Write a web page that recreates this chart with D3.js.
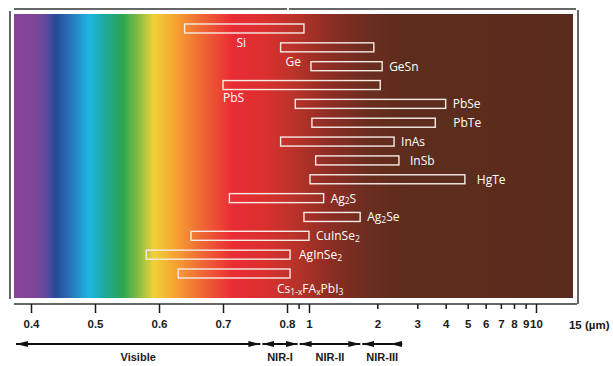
<!DOCTYPE html>
<html>
<head>
<meta charset="utf-8">
<script src="https://cdn.jsdelivr.net/npm/d3@7"></script>
<style>
  body { margin: 0; background: #fff; }
  svg { display: block; }
</style>
</head>
<body>
<svg id="chart" width="613" height="366"></svg>
<script>
// materials and their working wavelength range (µm)
var materials = ["Si", "Ge", "GeSn", "PbS", "PbSe", "PbTe", "InAs", "InSb", "HgTe",
                 "Ag_{2}S", "Ag_{2}Se", "CuInSe_{2}", "AgInSe_{2}", "Cs_{1-x}FA_{x}PbI_{3}"];
var rangeStart = [0.64, 0.79, 1.02, 0.70, 0.87, 1.03, 0.79, 1.07, 1.01, 0.71, 0.95, 0.65, 0.58, 0.63];
var rangeEnd   = [0.95, 1.93, 2.10, 2.06, 4.00, 3.60, 2.37, 2.49, 4.86, 1.16, 1.68, 1.00, 0.825, 0.825];

var majorTicks = [0.4, 0.5, 0.6, 0.7, 0.8, 1, 10];
var minorTicks = [0.9, 2, 3, 4, 5, 6, 7, 8, 9];
var unlabelledTicks = [0.9];

var bandNames = ["Visible", "NIR-I", "NIR-II", "NIR-III"];
var bandFrom  = [0.375, 0.76, 0.9, 1.7];
var bandTo    = [0.76, 0.9, 1.7, 2.6];

var svg = d3.select("#chart");
var plotL = 14, plotR = 573, plotT = 14, plotB = 298;

// linear in the visible, log beyond 0.8 µm
var xLin = d3.scaleLinear().domain([0.4, 0.8]).range([31, 287]);
var xLog = d3.scaleLog().domain([0.8, 10]).range([287, 536]);
function x(v) { return v <= 0.8 ? xLin(v) : xLog(v); }
x.domain = function() { return [0.4, 15]; };
x.range = function() { return [31, xLog(15)]; };
x.copy = function() { return x; };

var y = d3.scalePoint().domain(materials).range([28.5, 273.5]);

// spectrum background
var defs = svg.append("defs");
var grad = defs.append("linearGradient")
  .attr("id", "spec").attr("x1", "0%").attr("x2", "100%");
[[0, "#8a4398"], [4, "#7c4699"], [6, "#5a4a9e"], [7.5, "#224a98"], [10, "#2a72b8"],
 [13.5, "#1fb6e3"], [16, "#1aa9a4"], [19.5, "#2ea54e"], [22, "#7cbb45"], [25, "#f0d136"],
 [29, "#f6a132"], [33, "#ef6f33"], [39, "#ea2c35"], [45, "#d9302f"], [50, "#bb3329"],
 [56, "#902d24"], [63, "#6b2d1f"], [70, "#5d2c1c"], [100, "#5a2c1d"]].forEach(function(s) {
  grad.append("stop").attr("offset", s[0] + "%").attr("stop-color", s[1]);
});
svg.append("rect")
  .attr("x", plotL).attr("y", plotT)
  .attr("width", plotR - plotL).attr("height", plotB - plotT)
  .attr("fill", "url(#spec)");

// frame
var frame = svg.append("g").attr("stroke", "#333").attr("stroke-width", 1.5);
frame.append("line").attr("x1", 14).attr("x2", 287).attr("y1", 9).attr("y2", 9);
frame.append("line").attr("x1", 289).attr("x2", 576).attr("y1", 9).attr("y2", 9);
frame.append("line").attr("x1", 10).attr("x2", 10).attr("y1", 11).attr("y2", 299);
frame.append("line").attr("x1", 578).attr("x2", 578).attr("y1", 10).attr("y2", 304);
frame.append("line").attr("x1", 14).attr("x2", 577).attr("y1", 304).attr("y2", 304);

// bars
svg.append("g").selectAll("rect")
  .data(materials)
  .enter().append("rect")
    .attr("x", function(d, i) { return x(rangeStart[i]); })
    .attr("y", function(d) { return y(d) - 4.5; })
    .attr("width", function(d, i) { return x(rangeEnd[i]) - x(rangeStart[i]); })
    .attr("height", 9)
    .attr("fill", "none")
    .attr("stroke", "#f6ece6")
    .attr("stroke-width", 1.4);

// label placement: below the bar or to the right of it
var place = {
  "Si": { at: "mid", dx: -3, dy: 18.5, anchor: "middle" },
  "Ge": { at: "start", dx: 5, dy: 18.5 },
  "PbS": { at: "start", dx: 0, dy: 17 },
  "PbTe": { at: "end", dx: 18, dy: 4.5 },
  "InSb": { at: "end", dx: 11, dy: 4.5 },
  "HgTe": { at: "end", dx: 12, dy: 4.5 },
  "AgInSe_{2}": { at: "end", dx: 9, dy: 4.5 },
  "Cs_{1-x}FA_{x}PbI_{3}": { at: "end", dx: -13, dy: 19.5 }
};

var labels = svg.append("g")
  .attr("font-family", "'Open Sans', sans-serif")
  .attr("font-size", 12)
  .attr("fill", "#fff")
  .selectAll("text")
  .data(materials)
  .enter().append("text")
    .attr("x", function(d, i) {
      var p = place[d] || { at: "end", dx: 7 };
      var base = p.at === "start" ? x(rangeStart[i]) :
                 p.at === "mid" ? (x(rangeStart[i]) + x(rangeEnd[i])) / 2 : x(rangeEnd[i]);
      return base + p.dx;
    })
    .attr("y", function(d) { return y(d) + (place[d] ? place[d].dy : 4.5); })
    .attr("text-anchor", function(d) { return place[d] && place[d].anchor ? place[d].anchor : "start"; });

labels.each(function(d) {
  var t = d3.select(this);
  var parts = d.split(/(_\{[^}]*\})/).filter(function(s) { return s.length; });
  var shifted = false;
  parts.forEach(function(s) {
    if (s.charAt(0) === "_") {
      t.append("tspan").attr("font-size", 8.5).attr("dy", shifted ? 0 : 1.5)
        .text(s.slice(2, -1));
      shifted = true;
    } else {
      t.append("tspan").attr("dy", shifted ? -1.5 : 0).text(s);
      shifted = false;
    }
  });
});

// axis
var fmt = function(d) { return String(d); };
var axisFont = "'Liberation Sans', Arial, sans-serif";

var gMajor = svg.append("g").attr("transform", "translate(0,304)")
  .call(d3.axisBottom(x).tickValues(majorTicks).tickSize(9).tickFormat(fmt));
var gMinor = svg.append("g").attr("transform", "translate(0,304)")
  .call(d3.axisBottom(x).tickValues(minorTicks).tickSize(5)
    .tickFormat(function(d) { return unlabelledTicks.indexOf(d) >= 0 ? "" : fmt(d); }));

[gMajor, gMinor].forEach(function(g) {
  g.select(".domain").remove();
  g.selectAll(".tick line").attr("stroke", "#1a1a1a").attr("stroke-width", 1.5);
  g.selectAll(".tick text")
    .attr("y", 16)
    .attr("fill", "#1a1a1a")
    .attr("font-family", axisFont)
    .attr("font-weight", "bold")
    .attr("font-size", 11.5);
});

svg.append("text")
  .attr("x", x(15) - 7).attr("y", 328.5)
  .attr("font-family", axisFont).attr("font-weight", "bold")
  .attr("font-size", 11.5).attr("fill", "#1a1a1a")
  .text("15 (µm)");

// spectral region arrows
defs.append("marker")
  .attr("id", "head").attr("viewBox", "0 0 12 6")
  .attr("refX", 12).attr("refY", 3)
  .attr("markerWidth", 6).attr("markerHeight", 3)
  .attr("orient", "auto-start-reverse")
  .append("path").attr("d", "M0,0L12,3L0,6Z").attr("fill", "#111");
defs.append("marker")
  .attr("id", "tail").attr("viewBox", "0 0 12 6")
  .attr("refX", 12).attr("refY", 3)
  .attr("markerWidth", 6).attr("markerHeight", 3)
  .attr("orient", "auto")
  .append("path").attr("d", "M12,0L0,3L12,6Z").attr("fill", "#111");

var arrows = svg.append("g");
arrows.selectAll("line")
  .data(bandNames)
  .enter().append("line")
    .attr("x1", function(d, i) { return x(bandFrom[i]) + 1; })
    .attr("x2", function(d, i) { return x(bandTo[i]) - 1; })
    .attr("y1", 344).attr("y2", 344)
    .attr("stroke", "#111").attr("stroke-width", 2)
    .attr("marker-start", "url(#head)")
    .attr("marker-end", function(d, i) { return i === bandNames.length - 1 ? "url(#tail)" : "url(#head)"; });

arrows.selectAll("text")
  .data(bandNames)
  .enter().append("text")
    .attr("x", function(d, i) { return (x(bandFrom[i]) + x(bandTo[i])) / 2; })
    .attr("y", 361)
    .attr("text-anchor", "middle")
    .attr("font-family", axisFont)
    .attr("font-weight", "bold")
    .attr("font-size", 11)
    .attr("fill", "#1a1a1a")
    .text(function(d) { return d; });
</script>
</body>
</html>
